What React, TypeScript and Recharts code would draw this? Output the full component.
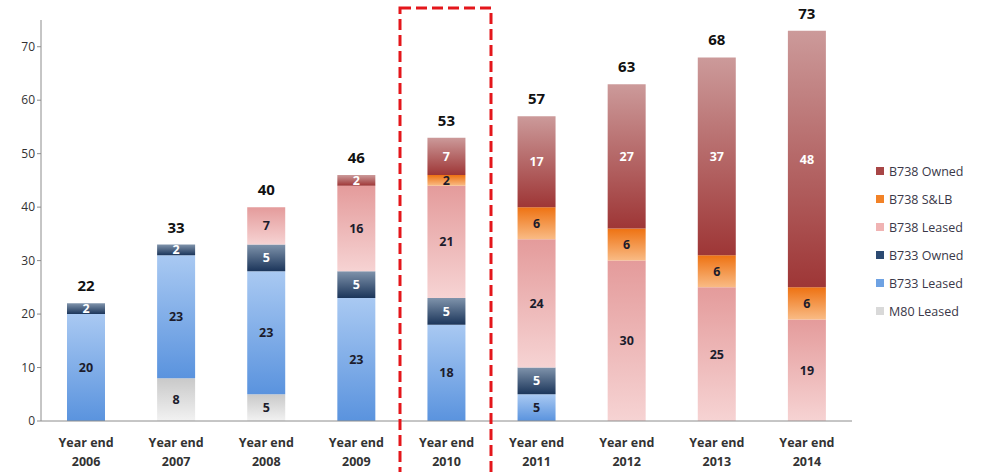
import { BarChart, Bar, XAxis, YAxis, LabelList } from 'recharts';

const years = ['2006', '2007', '2008', '2009', '2010', '2011', '2012', '2013', '2014'];
const m80Leased = [0, 8, 5, 0, 0, 0, 0, 0, 0];
const b733Leased = [20, 23, 23, 23, 18, 5, 0, 0, 0];
const b733Owned = [2, 2, 5, 5, 5, 5, 0, 0, 0];
const b738Leased = [0, 0, 7, 16, 21, 24, 30, 25, 19];
const b738Slb = [0, 0, 0, 0, 2, 6, 6, 6, 6];
const b738Owned = [0, 0, 0, 2, 7, 17, 27, 37, 48];
const yTicks = [0, 10, 20, 30, 40, 50, 60, 70];

const data = years.map((year, i) => ({
  year,
  m80Leased: m80Leased[i],
  b733Leased: b733Leased[i],
  b733Owned: b733Owned[i],
  b738Leased: b738Leased[i],
  b738Slb: b738Slb[i],
  b738Owned: b738Owned[i],
  // tiny invisible cap that carries the total label
  cap: 0.001,
  total: m80Leased[i] + b733Leased[i] + b733Owned[i] + b738Leased[i] + b738Slb[i] + b738Owned[i],
}));

const series = [
  { key: 'm80Leased', name: 'M80 Leased', top: '#c9c9c9', bottom: '#f2f2f2', swatch: '#d9d9d9', text: '#1c1c2c' },
  { key: 'b733Leased', name: 'B733 Leased', top: '#a9c9f2', bottom: '#5a93de', swatch: '#6ea2e3', text: '#1c1c2c' },
  { key: 'b733Owned', name: 'B733 Owned', top: '#7f93ab', bottom: '#1b355a', swatch: '#2c4a72', text: '#ffffff' },
  { key: 'b738Leased', name: 'B738 Leased', top: '#e49b9b', bottom: '#f6d3d3', swatch: '#f0b3b3', text: '#1c1c2c' },
  { key: 'b738Slb', name: 'B738 S&LB', top: '#ee7212', bottom: '#f9bb85', swatch: '#f28227', text: '#1c1c2c' },
  { key: 'b738Owned', name: 'B738 Owned', top: '#cc9a9a', bottom: '#9e3636', swatch: '#a84646', text: '#ffffff' },
];

const font = '"Open Sans", "DejaVu Sans", sans-serif';

function YearTick(props: any) {
  const { x, y, payload } = props;
  return (
    <text x={x} y={y} textAnchor="middle" fontFamily={font} fontWeight={700} fontSize={12.5} fill="#333">
      <tspan x={x} dy={18}>Year end</tspan>
      <tspan x={x} dy={19}>{payload.value}</tspan>
    </text>
  );
}

function segmentLabel(color: string) {
  return (props: any) => {
    const { x, y, width, height, value } = props;
    if (!value) return null;
    return (
      <text
        x={x + width / 2}
        y={y + height / 2}
        dy={4.5}
        textAnchor="middle"
        fontFamily={font}
        fontWeight={700}
        fontSize={12.5}
        fill={color}
      >
        {value}
      </text>
    );
  };
}

function TotalLabel(props: any) {
  const { x, y, width, value } = props;
  return (
    <text x={x + width / 2} y={y - 12} textAnchor="middle" fontFamily={font} fontWeight={700} fontSize={15} fill="#111">
      {value}
    </text>
  );
}

function ChartLegend() {
  const items = [...series].reverse();
  return (
    <div style={{ position: 'absolute', left: 876, top: 157, fontFamily: font, fontSize: 12.5, color: '#3a3848' }}>
      {items.map((s) => (
        <div key={s.key} style={{ display: 'flex', alignItems: 'center', height: 28 }}>
          <span style={{ width: 8, height: 8, background: s.swatch, marginRight: 5, display: 'inline-block' }} />
          {s.name}
        </div>
      ))}
    </div>
  );
}

export default function App() {
  return (
    <div style={{ position: 'relative', width: 986, height: 472, background: '#fff' }}>
      <style>{'body{margin:0}'}</style>
      <BarChart width={986} height={472} data={data} margin={{ top: 20, right: 134, bottom: 0, left: 0 }} barSize={38}>
        <defs>
          {series.map((s) => (
            <linearGradient key={s.key} id={`g-${s.key}`} x1="0" y1="0" x2="0" y2="1">
              <stop offset="0%" stopColor={s.top} />
              <stop offset="100%" stopColor={s.bottom} />
            </linearGradient>
          ))}
        </defs>
        <XAxis
          dataKey="year"
          tick={<YearTick />}
          tickLine={false}
          axisLine={{ stroke: '#8c8c8c' }}
          interval={0}
          height={51}
        />
        <YAxis
          domain={[0, 75]}
          ticks={yTicks}
          width={41}
          tick={{ fontFamily: font, fontSize: 12, fill: '#333' }}
          tickSize={4}
          tickLine={{ stroke: '#8c8c8c' }}
          axisLine={{ stroke: '#8c8c8c' }}
        />
        {series.map((s) => (
          <Bar key={s.key} dataKey={s.key} name={s.name} stackId="a" fill={`url(#g-${s.key})`} isAnimationActive={false}>
            <LabelList dataKey={s.key} content={segmentLabel(s.text)} />
          </Bar>
        ))}
        <Bar dataKey="cap" stackId="a" fill="transparent" isAnimationActive={false}>
          <LabelList dataKey="total" content={<TotalLabel />} />
        </Bar>
      </BarChart>
      <ChartLegend />
      <svg style={{ position: 'absolute', left: 0, top: 0, pointerEvents: 'none' }} width={986} height={472}>
        <rect x={400} y={8} width={91} height={480} fill="none" stroke="#e4161b" strokeWidth={3} strokeDasharray="11 5" />
      </svg>
    </div>
  );
}
